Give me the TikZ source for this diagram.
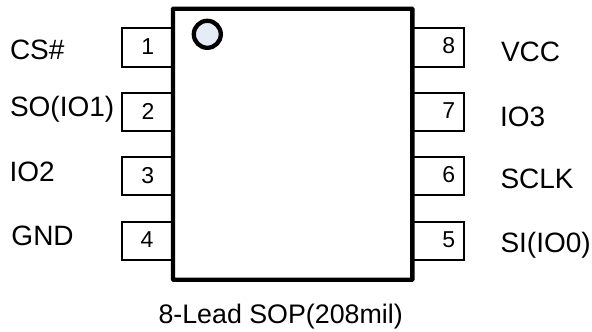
\documentclass[tikz,border=0pt]{standalone}
\usepackage{fontspec}
\setmainfont{Liberation Sans}
\tikzset{
  pin/.style={draw=black,line width=2pt,fill=white,minimum width=51.5pt,minimum height=38.4pt,inner sep=0pt,outer sep=0pt},
  body/.style={draw=black,line width=4.3pt,fill=white,minimum width=239.3pt,minimum height=271pt,inner sep=0pt,outer sep=0pt,rounded corners=0.5pt},
  dot/.style={circle,draw=black,line width=4.3pt,fill=dotblue,minimum size=27pt,inner sep=0pt,outer sep=0pt},
  lab/.style={font=\fontsize{28}{28}\selectfont,anchor=base west,inner sep=0pt,outer sep=0pt},
  captext/.style={font=\fontsize{26.8}{26.8}\selectfont,anchor=base west,inner sep=0pt,outer sep=0pt},
  num/.style={font=\fontsize{23}{23}\selectfont,anchor=base,inner sep=0pt,outer sep=0pt}
}
\definecolor{dotblue}{HTML}{E6ECF6}
\begin{document}
\begin{tikzpicture}[x=1pt,y=-1pt]
\useasboundingbox (0,0) rectangle (592,332);
% pins
\node[pin] (p1) at (147.3,47.5) {};
\node[pin] (p2) at (147.3,111.9) {};
\node[pin] (p3) at (147.3,176.2) {};
\node[pin] (p4) at (147.3,241.1) {};
\node[pin] (p8) at (438.7,47.5) {};
\node[pin] (p7) at (438.7,111.9) {};
\node[pin] (p6) at (438.7,176.2) {};
\node[pin] (p5) at (438.7,241.1) {};
% package
\node[body] (chip) at (292.7,144.2) {};
\node[dot] (mark) at (207.3,34.3) {};
% pin numbers
\node[num] (n1) at (147.7,54) {1};
\node[num] (n2) at (148,119) {2};
\node[num] (n3) at (147.7,183) {3};
\node[num] (n4) at (147,247.7) {4};
\node[num] (n8) at (448.7,53.7) {8};
\node[num] (n7) at (448.7,118.7) {7};
\node[num] (n6) at (448.7,182.7) {6};
\node[num] (n5) at (448.7,247.7) {5};
% signal names
\node[lab] (l1) at (10,59) {CS\#};
\node[lab] (l2) at (10,116.7) {SO(IO1)};
\node[lab] (l3) at (9.6,181.7) {IO2};
\node[lab] (l4) at (11.5,245) {GND};
\node[lab] (l8) at (501,61) {VCC};
\node[lab] (l7) at (500,126.7) {IO3};
\node[lab] (l6) at (500.5,188) {SCLK};
\node[lab] (l5) at (500.5,252.7) {SI(IO0)};
\node[captext] (capt) at (158.5,323) {8-Lead SOP(208mil)};
\end{tikzpicture}
\end{document}
